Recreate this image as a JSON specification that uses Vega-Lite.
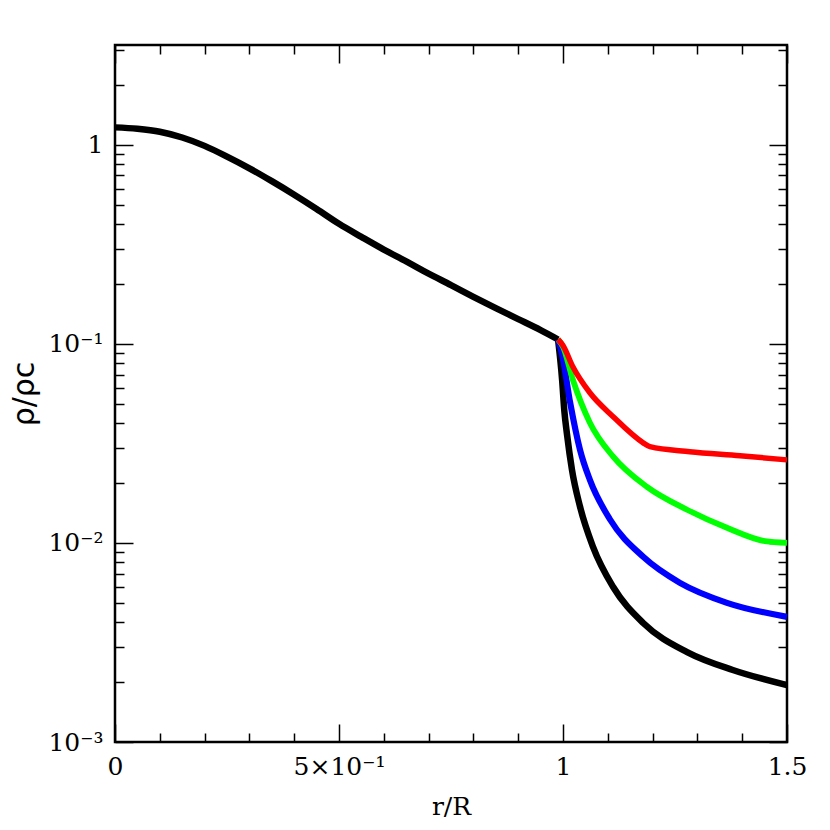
{
  "$schema": "https://vega.github.io/schema/vega-lite/v6.json",
  "width": 672,
  "height": 697,
  "autosize": "none",
  "padding": {"left": 115, "top": 45, "right": 43, "bottom": 88},
  "background": "white",
  "config": {
    "view": {"stroke": "black", "strokeWidth": 2.5},
    "axis": {
      "domain": false,
      "grid": false,
      "tickColor": "black",
      "tickWidth": 1.5,
      "labelColor": "black",
      "labelOverlap": false,
      "labelBound": false,
      "labelFlush": false,
      "titleColor": "black",
      "titleFontWeight": "normal"
    }
  },
  "data": {
    "values": [
      {"s": "black", "seg": "a", "r": 0, "rho": 1.22},
      {"s": "black", "seg": "a", "r": 0.05, "rho": 1.2},
      {"s": "black", "seg": "a", "r": 0.1, "rho": 1.16},
      {"s": "black", "seg": "a", "r": 0.15, "rho": 1.085},
      {"s": "black", "seg": "a", "r": 0.2, "rho": 0.985},
      {"s": "black", "seg": "a", "r": 0.25, "rho": 0.87},
      {"s": "black", "seg": "a", "r": 0.3, "rho": 0.76},
      {"s": "black", "seg": "a", "r": 0.35, "rho": 0.655},
      {"s": "black", "seg": "a", "r": 0.4, "rho": 0.56},
      {"s": "black", "seg": "a", "r": 0.45, "rho": 0.475},
      {"s": "black", "seg": "a", "r": 0.5, "rho": 0.4},
      {"s": "black", "seg": "a", "r": 0.55, "rho": 0.344},
      {"s": "black", "seg": "a", "r": 0.6, "rho": 0.297},
      {"s": "black", "seg": "a", "r": 0.65, "rho": 0.259},
      {"s": "black", "seg": "a", "r": 0.7, "rho": 0.225},
      {"s": "black", "seg": "a", "r": 0.75, "rho": 0.197},
      {"s": "black", "seg": "a", "r": 0.8, "rho": 0.172},
      {"s": "black", "seg": "a", "r": 0.85, "rho": 0.151},
      {"s": "black", "seg": "a", "r": 0.9, "rho": 0.133},
      {"s": "black", "seg": "a", "r": 0.95, "rho": 0.117},
      {"s": "black", "seg": "a", "r": 0.989, "rho": 0.105},
      {"s": "black", "seg": "b", "r": 0.989, "rho": 0.105},
      {"s": "black", "seg": "b", "r": 0.998, "rho": 0.066},
      {"s": "black", "seg": "b", "r": 1.003, "rho": 0.046},
      {"s": "black", "seg": "b", "r": 1.009, "rho": 0.035},
      {"s": "black", "seg": "b", "r": 1.02, "rho": 0.0233},
      {"s": "black", "seg": "b", "r": 1.038, "rho": 0.0152},
      {"s": "black", "seg": "b", "r": 1.067, "rho": 0.00955},
      {"s": "black", "seg": "b", "r": 1.112, "rho": 0.006},
      {"s": "black", "seg": "b", "r": 1.179, "rho": 0.00396},
      {"s": "black", "seg": "b", "r": 1.277, "rho": 0.00283},
      {"s": "black", "seg": "b", "r": 1.379, "rho": 0.0023},
      {"s": "black", "seg": "b", "r": 1.5, "rho": 0.00193},
      {"s": "blue", "seg": "b", "r": 0.989, "rho": 0.105},
      {"s": "blue", "seg": "b", "r": 0.998, "rho": 0.088},
      {"s": "blue", "seg": "b", "r": 1.016, "rho": 0.0506},
      {"s": "blue", "seg": "b", "r": 1.038, "rho": 0.0293},
      {"s": "blue", "seg": "b", "r": 1.06, "rho": 0.0207},
      {"s": "blue", "seg": "b", "r": 1.105, "rho": 0.0131},
      {"s": "blue", "seg": "b", "r": 1.179, "rho": 0.00851},
      {"s": "blue", "seg": "b", "r": 1.261, "rho": 0.0063},
      {"s": "blue", "seg": "b", "r": 1.366, "rho": 0.005},
      {"s": "blue", "seg": "b", "r": 1.5, "rho": 0.00425},
      {"s": "green", "seg": "b", "r": 0.989, "rho": 0.105},
      {"s": "green", "seg": "b", "r": 1.0, "rho": 0.0966},
      {"s": "green", "seg": "b", "r": 1.022, "rho": 0.0659},
      {"s": "green", "seg": "b", "r": 1.06, "rho": 0.0401},
      {"s": "green", "seg": "b", "r": 1.112, "rho": 0.0271},
      {"s": "green", "seg": "b", "r": 1.1875, "rho": 0.0191},
      {"s": "green", "seg": "b", "r": 1.277, "rho": 0.01466},
      {"s": "green", "seg": "b", "r": 1.366, "rho": 0.0119},
      {"s": "green", "seg": "b", "r": 1.451, "rho": 0.0102},
      {"s": "green", "seg": "b", "r": 1.5, "rho": 0.01},
      {"s": "red", "seg": "b", "r": 0.989, "rho": 0.105},
      {"s": "red", "seg": "b", "r": 1.0, "rho": 0.098},
      {"s": "red", "seg": "b", "r": 1.022, "rho": 0.0766},
      {"s": "red", "seg": "b", "r": 1.06, "rho": 0.0567},
      {"s": "red", "seg": "b", "r": 1.112, "rho": 0.043},
      {"s": "red", "seg": "b", "r": 1.179, "rho": 0.0318},
      {"s": "red", "seg": "b", "r": 1.194, "rho": 0.0304},
      {"s": "red", "seg": "b", "r": 1.283, "rho": 0.0287},
      {"s": "red", "seg": "b", "r": 1.395, "rho": 0.0274},
      {"s": "red", "seg": "b", "r": 1.5, "rho": 0.0261}
    ]
  },
  "layer": [
    {
      "mark": {"type": "line", "strokeJoin": "round", "strokeCap": "butt", "interpolate": "monotone"},
      "encoding": {
        "x": {
          "field": "r",
          "type": "quantitative",
          "scale": {"domain": [0, 1.5], "nice": false, "zero": false},
          "axis": {
            "orient": "bottom",
            "values": [0, 0.1, 0.2, 0.3, 0.4, 0.5, 0.6, 0.7, 0.8, 0.9, 1, 1.1, 1.2, 1.3, 1.4, 1.5],
            "labelExpr": "datum.value == 0 ? '0' : datum.value == 0.5 ? '5×10⁻¹' : datum.value == 1 ? '1' : datum.value == 1.5 ? '1.5' : ''",
            "tickSize": {"condition": {"test": "datum.value == 0 || datum.value == 0.5 || datum.value == 1 || datum.value == 1.5", "value": -18}, "value": -9},
            "labelFont": "DejaVu Serif",
            "labelFontSize": 25,
            "labelPadding": 30,
            "title": "r/R",
            "titleFont": "DejaVu Serif",
            "titleFontSize": 25,
            "titlePadding": 6
          }
        },
        "y": {
          "field": "rho",
          "type": "quantitative",
          "scale": {"type": "log", "domain": [0.001, 3.1623], "nice": false},
          "axis": {
            "orient": "left",
            "values": [0.001, 0.002, 0.003, 0.004, 0.005, 0.006, 0.007, 0.008, 0.009, 0.01, 0.02, 0.03, 0.04, 0.05, 0.06, 0.07, 0.08, 0.09, 0.1, 0.2, 0.3, 0.4, 0.5, 0.6, 0.7, 0.8, 0.9, 1, 2, 3],
            "labelExpr": "datum.value == 1 ? '1' : datum.value == 0.1 ? '10⁻¹' : datum.value == 0.01 ? '10⁻²' : datum.value == 0.001 ? '10⁻³' : ''",
            "tickSize": {"condition": {"test": "datum.value == 0.001 || datum.value == 0.01 || datum.value == 0.1 || datum.value == 1", "value": -18}, "value": -9},
            "labelFont": "DejaVu Serif",
            "labelFontSize": 25,
            "labelPadding": 30,
            "title": "ρ/ρc",
            "titleFont": "DejaVu Sans",
            "titleFontSize": 30,
            "titlePadding": 8
          }
        },
        "color": {
          "field": "s",
          "type": "nominal",
          "scale": {"domain": ["black", "blue", "green", "red"], "range": ["#000000", "#0000ff", "#00ff00", "#ff0000"]},
          "legend": null
        },
        "strokeWidth": {
          "field": "s",
          "type": "ordinal",
          "scale": {"domain": ["black", "blue", "green", "red"], "range": [6.5, 5.5, 5.5, 5.5]},
          "legend": null
        },
        "detail": {"field": "seg", "type": "nominal"}
      }
    },
    {
      "mark": {"type": "point", "opacity": 0},
      "encoding": {
        "x": {
          "field": "r",
          "type": "quantitative",
          "axis": {
            "orient": "top",
            "values": [0, 0.1, 0.2, 0.3, 0.4, 0.5, 0.6, 0.7, 0.8, 0.9, 1, 1.1, 1.2, 1.3, 1.4, 1.5],
            "labels": false,
            "title": null,
            "tickSize": {"condition": {"test": "datum.value == 0 || datum.value == 0.5 || datum.value == 1 || datum.value == 1.5", "value": -18}, "value": -9}
          }
        },
        "y": {
          "field": "rho",
          "type": "quantitative",
          "axis": {
            "orient": "right",
            "values": [0.001, 0.002, 0.003, 0.004, 0.005, 0.006, 0.007, 0.008, 0.009, 0.01, 0.02, 0.03, 0.04, 0.05, 0.06, 0.07, 0.08, 0.09, 0.1, 0.2, 0.3, 0.4, 0.5, 0.6, 0.7, 0.8, 0.9, 1, 2, 3],
            "labels": false,
            "title": null,
            "tickSize": {"condition": {"test": "datum.value == 0.001 || datum.value == 0.01 || datum.value == 0.1 || datum.value == 1", "value": -18}, "value": -9}
          }
        }
      }
    }
  ],
  "resolve": {"axis": {"x": "independent", "y": "independent"}}
}
